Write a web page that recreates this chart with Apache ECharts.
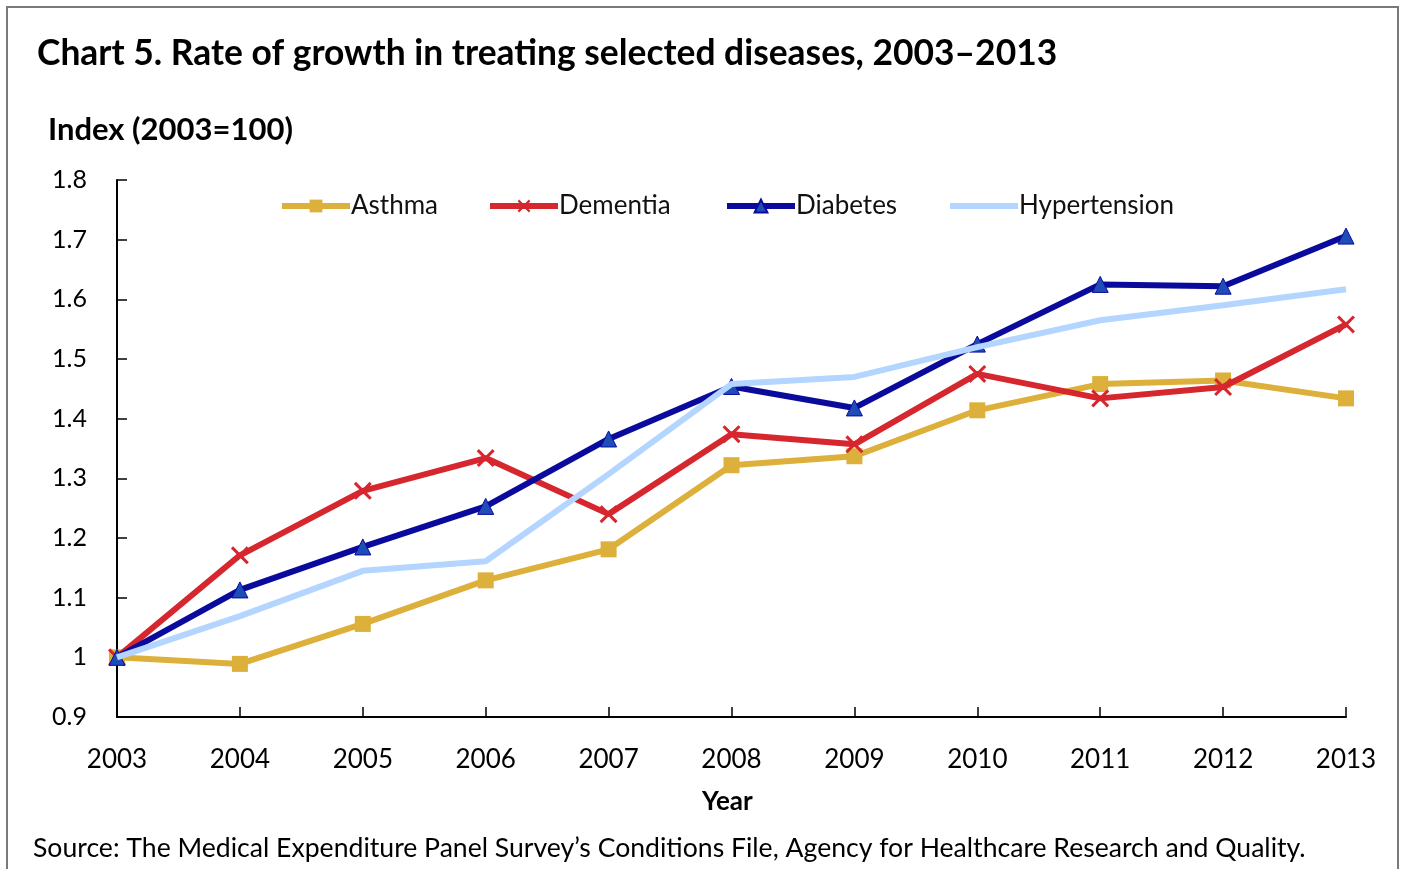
<!DOCTYPE html>
<html>
<head>
<meta charset="utf-8">
<script src="https://cdn.jsdelivr.net/npm/echarts@6/dist/echarts.min.js"></script>
<style>
html,body{margin:0;padding:0;background:#fff;}
#c{width:1403px;height:869px;}
</style>
</head>
<body>
<div id="c"></div>
<script>
var years = ['2003','2004','2005','2006','2007','2008','2009','2010','2011','2012','2013'];
var asthma = [1.000, 0.989, 1.056, 1.129, 1.181, 1.322, 1.337, 1.414, 1.458, 1.464, 1.434];
var dementia = [1.000, 1.171, 1.279, 1.334, 1.240, 1.374, 1.357, 1.475, 1.434, 1.453, 1.558];
var diabetes = [1.000, 1.113, 1.185, 1.253, 1.366, 1.454, 1.418, 1.525, 1.625, 1.622, 1.706];
var hypertension = [1.000, 1.069, 1.145, 1.161, 1.307, 1.458, 1.470, 1.520, 1.565, 1.590, 1.617];
var seriesNames = ['Asthma','Dementia','Diabetes','Hypertension'];
var titleText = 'Chart 5. Rate of growth in treating selected diseases, 2003\u20132013';
var yName = 'Index (2003=100)';
var xName = 'Year';
var sourceText = 'Source: The Medical Expenditure Panel Survey\u2019s Conditions File, Agency for Healthcare Research and Quality.';

var FONT = 'Lato, "Open Sans", sans-serif';
var crossPath = 'path://M0,1.2L1.2,0L5,3.8L8.8,0L10,1.2L6.2,5L10,8.8L8.8,10L5,6.2L1.2,10L0,8.8L3.8,5Z';
var legendLefts = [274, 482, 719, 942];

var legends = seriesNames.map(function(n, i){
  return {
    left: legendLefts[i], top: 188, itemWidth: 68, itemHeight: 16,
    lineStyle: {width: 6},
    textStyle: {fontFamily: FONT, fontSize: 26, color: '#111', padding: [0,0,0,-4]},
    data: [i === 3 ? {name: n, itemStyle: {opacity: 0}} : n]
  };
});

var chart = echarts.init(document.getElementById('c'));
chart.setOption({
  animation: false,
  backgroundColor: '#fff',
  grid: {left: 117, right: 57, top: 180, bottom: 152, containLabel: false},
  legend: legends,
  xAxis: {
    type: 'category', data: years, boundaryGap: false,
    axisLine: {lineStyle: {color: '#000', width: 2}},
    axisTick: {inside: true, length: 10, alignWithLabel: true, lineStyle: {color: '#000', width: 1.5}},
    axisLabel: {fontFamily: FONT, fontSize: 26, color: '#000', margin: 30},
    splitLine: {show: false}
  },
  yAxis: {
    type: 'value', min: 0.9, max: 1.8, interval: 0.1,
    axisLine: {show: true, lineStyle: {color: '#000', width: 2}},
    axisTick: {show: true, inside: true, length: 10, lineStyle: {color: '#000', width: 1.5}},
    axisLabel: {fontFamily: FONT, fontSize: 25, color: '#000', margin: 30,
      formatter: function(v){ return String(Math.round(v*10)/10); }},
    splitLine: {show: false}
  },
  series: [
    {name: 'Asthma', type: 'line', data: asthma, symbol: 'rect', symbolSize: 16,
     lineStyle: {color: '#DDB03B', width: 6}, itemStyle: {color: '#DDB03B'}, z: 2},
    {name: 'Dementia', type: 'line', data: dementia, symbol: crossPath, symbolSize: 18,
     lineStyle: {color: '#D6262E', width: 6}, itemStyle: {color: '#D6262E'}, z: 3},
    {name: 'Diabetes', type: 'line', data: diabetes, symbol: 'triangle', symbolSize: 16,
     lineStyle: {color: '#0A0A9C', width: 6}, itemStyle: {color: '#1E4DB8', borderColor: '#0A0A9C', borderWidth: 1}, z: 4},
    {name: 'Hypertension', type: 'line', data: hypertension, symbol: 'none', showSymbol: false,
     lineStyle: {color: '#B3D5FF', width: 6}, itemStyle: {color: '#B3D5FF'}, z: 5}
  ],
  graphic: [
    {type: 'rect', shape: {x: 7, y: 7, width: 1391, height: 880}, style: {fill: 'none', stroke: '#7a7a7a', lineWidth: 2}, silent: true},
    {type: 'text', left: 37, top: 36, style: {text: titleText, font: 'bold 35.4px ' + FONT, fill: '#000'}},
    {type: 'text', left: 48, top: 114, style: {text: yName, font: 'bold 31px ' + FONT, fill: '#000'}},
    {type: 'text', left: 702, top: 789, style: {text: xName, font: 'bold 26px ' + FONT, fill: '#000'}},
    {type: 'text', left: 33, top: 835, style: {text: sourceText, font: '26.6px ' + FONT, fill: '#000'}}
  ]
});
</script>
</body>
</html>
